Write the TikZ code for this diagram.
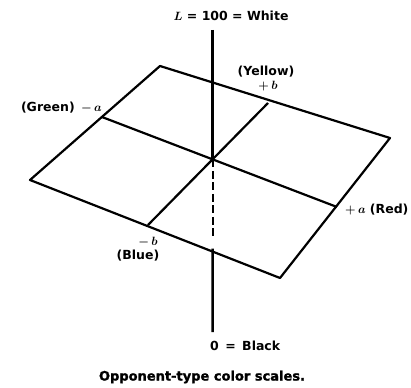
\documentclass[tikz,border=0pt]{standalone}
\usepackage{fontspec}
\setmainfont{DejaVu Sans}
\newfontfamily\capfont{DejaVu Sans}[BoldFeatures={FakeBold=1.5}]
\usetikzlibrary{positioning}

\begin{document}
\begin{tikzpicture}[
      x=1pt,y=-1pt,
      plane/.style={line width=2.2pt,line join=round},
      axis/.style={line width=2.4pt},
      hid/.style={line width=2pt,dash pattern=on 8pt off 3.5pt},
      lbl/.style={font=\fontsize{12.5}{13.5}\selectfont\bfseries\boldmath,inner sep=1pt},
      captxt/.style={font=\fontsize{13}{14}\selectfont\capfont\bfseries,inner sep=1pt}]
    \useasboundingbox (0,0) rectangle (411,387);
    % corners of the a-b plane
    \coordinate (T)  at (160,66);
    \coordinate (R)  at (390,138);
    \coordinate (B)  at (280,278);
    \coordinate (Lf) at (30,180);
    % ends of the two scales on the edges
    \coordinate (ma) at (102,117);
    \coordinate (pa) at (337,207);
    \coordinate (pb) at (268,103);
    \coordinate (mb) at (148,225);
    \coordinate (O) at (intersection of ma--pa and pb--mb);
    % lightness axis
    \coordinate (Ltop) at (O |- 0,30);
    \coordinate (Lbot) at (O |- 0,332);
    \coordinate (hidend) at (O |- 0,238);
    \coordinate (front) at (intersection of Lf--B and Ltop--Lbot);
    \draw[plane] (T)--(R)--(B)--(Lf)--cycle;
    \draw[plane] (ma)--(pa);
    \draw[plane] (pb)--(mb);
    \draw[axis] (Ltop)--(O);
    \draw[hid] (O)--(hidend);
    \draw[axis] ([yshift=3pt]front)--(Lbot);
    % labels
    \node[lbl] (white) at (231,16) {$L$ = 100 = White};
    \node[lbl] (yellow) at (266,72) {(Yellow)};
    \node[lbl,below=1pt of yellow,xshift=2pt] (plusb) {$+\,b$};
    \node[lbl,anchor=east] (green) at (103,108) {(Green) \,$-\,a$};
    \node[lbl,anchor=west] (red) at (344,210) {$+\,a$ (Red)};
    \node[lbl] (minusb) at (148,242) {$-\,b$};
    \node[lbl,below=1pt of minusb,xshift=-10pt] (blue) {(Blue)};
    \node[lbl,anchor=west] (black) at (209,346) {0 \,=\, Black};
    \node[captxt] (caption) at (202,377) {Opponent-type color scales.};
\end{tikzpicture}
\end{document}
